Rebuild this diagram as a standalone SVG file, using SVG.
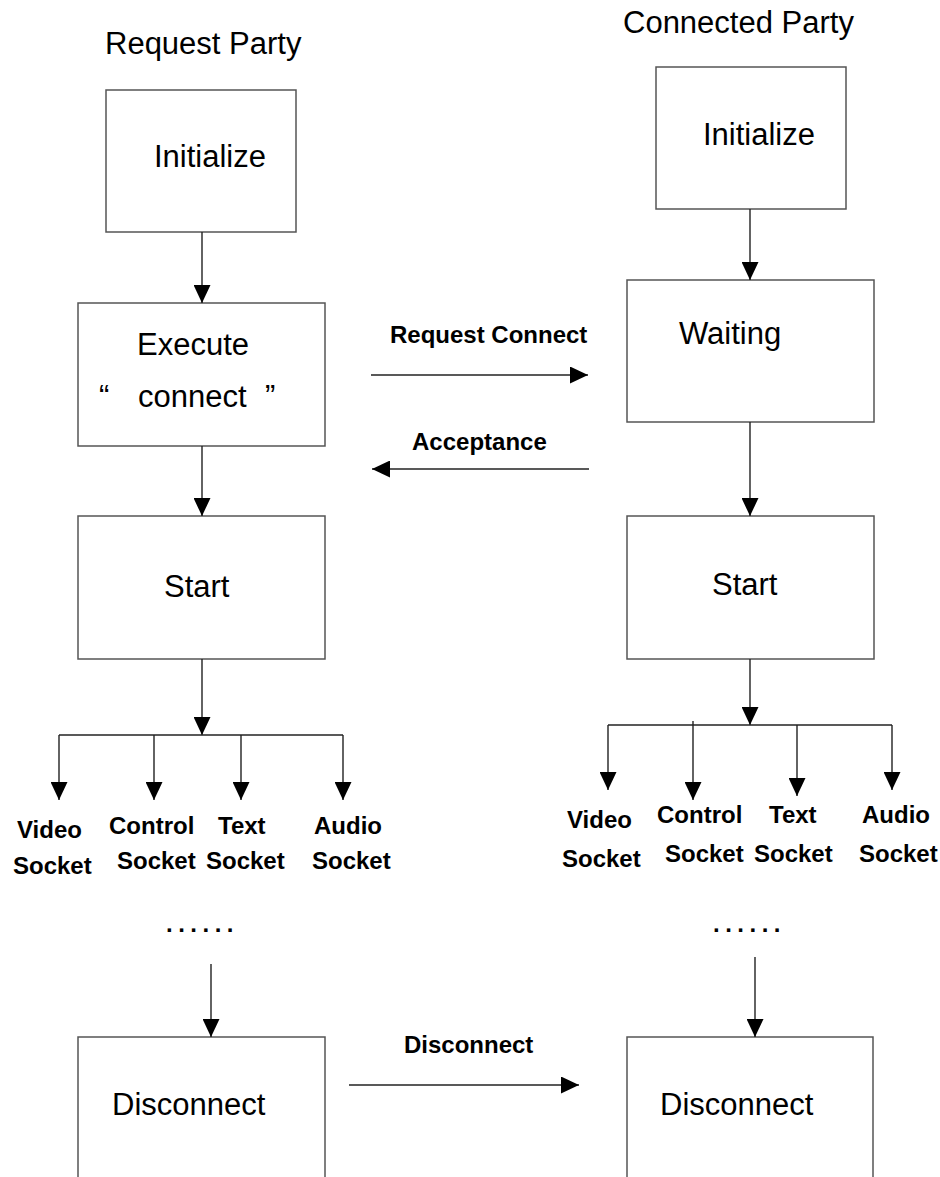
<svg xmlns="http://www.w3.org/2000/svg" width="940" height="1177" viewBox="0 0 940 1177">
  <defs>
    <marker id="arrow" markerUnits="userSpaceOnUse" markerWidth="18" markerHeight="17" refX="18" refY="8.5" orient="auto">
      <path d="M0,0 L18,8.5 L0,17 Z" fill="#000"/>
    </marker>
    <style>
      .box { fill: #fff; stroke: #555; stroke-width: 1.5; }
      .open { fill: none; stroke: #555; stroke-width: 1.5; }
      .title { font-family: "Liberation Sans", Arial, sans-serif; font-size: 31px; fill: #000; }
      .label { font-family: "Liberation Sans", Arial, sans-serif; font-size: 24px; font-weight: bold; fill: #000; }
      .dots { font-family: "Liberation Sans", Arial, sans-serif; font-size: 24px; font-weight: bold; letter-spacing: 5.5px; fill: #000; }
      .edge { fill: none; stroke: #222; stroke-width: 1.4; }
      .arr { marker-end: url(#arrow); }
    </style>
  </defs>
  <rect width="940" height="1177" fill="#fff"/>

  <!-- column headings -->
  <text class="title" x="105" y="54">Request Party</text>
  <text class="title" x="623" y="33">Connected Party</text>

  <!-- request party nodes -->
  <g id="req-initialize">
    <rect class="box" x="106" y="90" width="190" height="142"/>
    <text class="title" x="154" y="167">Initialize</text>
  </g>
  <g id="req-execute">
    <rect class="box" x="78" y="303" width="247" height="143"/>
    <text class="title" x="137" y="355">Execute</text>
    <text class="title" y="407"><tspan x="99">“</tspan><tspan x="138">connect</tspan><tspan x="265">”</tspan></text>
  </g>
  <g id="req-start">
    <rect class="box" x="78" y="516" width="247" height="143"/>
    <text class="title" x="164" y="597">Start</text>
  </g>
  <g id="req-sockets">
    <text class="label" x="17" y="838">Video</text>
    <text class="label" x="13" y="874">Socket</text>
    <text class="label" x="109" y="834">Control</text>
    <text class="label" x="117" y="869">Socket</text>
    <text class="label" x="218" y="834">Text</text>
    <text class="label" x="206" y="869">Socket</text>
    <text class="label" x="314" y="834">Audio</text>
    <text class="label" x="312" y="869">Socket</text>
    <text class="dots" x="166" y="932">......</text>
  </g>
  <g id="req-disconnect">
    <path class="open" d="M78,1180 V1037 H325 V1180"/>
    <text class="title" x="112" y="1115">Disconnect</text>
  </g>

  <!-- connected party nodes -->
  <g id="con-initialize">
    <rect class="box" x="656" y="67" width="190" height="142"/>
    <text class="title" x="703" y="145">Initialize</text>
  </g>
  <g id="con-waiting">
    <rect class="box" x="627" y="280" width="247" height="142"/>
    <text class="title" x="679" y="344">Waiting</text>
  </g>
  <g id="con-start">
    <rect class="box" x="627" y="516" width="247" height="143"/>
    <text class="title" x="712" y="595">Start</text>
  </g>
  <g id="con-sockets">
    <text class="label" x="567" y="828">Video</text>
    <text class="label" x="562" y="867">Socket</text>
    <text class="label" x="657" y="823">Control</text>
    <text class="label" x="665" y="862">Socket</text>
    <text class="label" x="769" y="823">Text</text>
    <text class="label" x="754" y="862">Socket</text>
    <text class="label" x="862" y="823">Audio</text>
    <text class="label" x="859" y="862">Socket</text>
    <text class="dots" x="713" y="932">......</text>
  </g>
  <g id="con-disconnect">
    <path class="open" d="M627,1180 V1037 H873 V1180"/>
    <text class="title" x="660" y="1115">Disconnect</text>
  </g>

  <!-- message labels -->
  <g id="messages">
    <text class="label" x="390" y="343">Request Connect</text>
    <text class="label" x="412" y="450">Acceptance</text>
    <text class="label" x="404" y="1053">Disconnect</text>
  </g>

  <!-- connectors -->
  <g id="connectors">
    <line class="edge arr" x1="202" y1="232" x2="202" y2="303"/>
    <line class="edge arr" x1="202" y1="446" x2="202" y2="516"/>
    <line class="edge arr" x1="202" y1="659" x2="202" y2="735"/>
    <line class="edge" x1="59" y1="735" x2="343" y2="735"/>
    <line class="edge arr" x1="59" y1="735" x2="59" y2="800"/>
    <line class="edge arr" x1="154" y1="735" x2="154" y2="800"/>
    <line class="edge arr" x1="241" y1="735" x2="241" y2="800"/>
    <line class="edge arr" x1="343" y1="735" x2="343" y2="800"/>
    <line class="edge arr" x1="211" y1="964" x2="211" y2="1037"/>

    <line class="edge arr" x1="750" y1="209" x2="750" y2="280"/>
    <line class="edge arr" x1="750" y1="422" x2="750" y2="516"/>
    <line class="edge arr" x1="750" y1="659" x2="750" y2="725"/>
    <line class="edge" x1="608" y1="725" x2="892" y2="725"/>
    <line class="edge arr" x1="608" y1="725" x2="608" y2="790"/>
    <line class="edge arr" x1="693" y1="721" x2="693" y2="800"/>
    <line class="edge arr" x1="797" y1="725" x2="797" y2="796"/>
    <line class="edge arr" x1="892" y1="725" x2="892" y2="790"/>
    <line class="edge arr" x1="755" y1="957" x2="755" y2="1037"/>

    <line class="edge arr" x1="371" y1="375" x2="588" y2="375"/>
    <line class="edge arr" x1="589" y1="469" x2="372" y2="469"/>
    <line class="edge arr" x1="349" y1="1085" x2="579" y2="1085"/>
  </g>
</svg>
